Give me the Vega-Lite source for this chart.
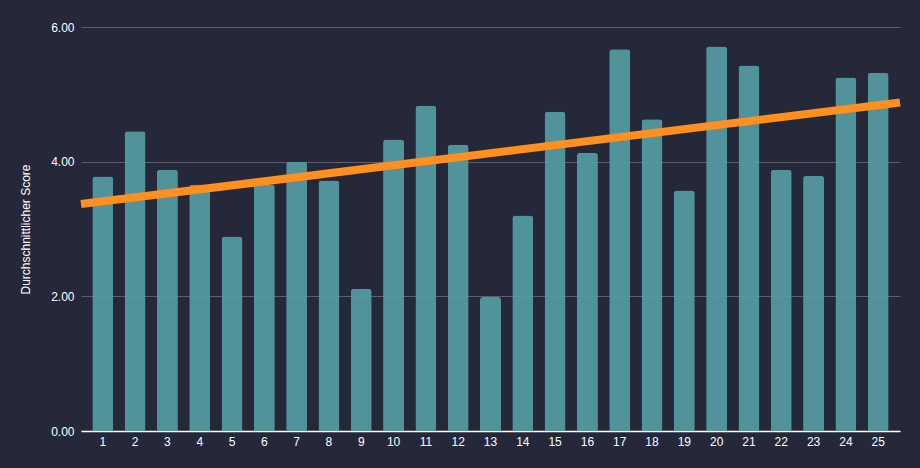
{
  "$schema": "https://vega.github.io/schema/vega-lite/v6.json",
  "width": 819,
  "height": 404,
  "autosize": {"type": "none"},
  "padding": {"left": 81, "top": 27, "right": 20, "bottom": 37},
  "background": "#252838",
  "datasets": {
    "scores": [
      {"nr": 1, "score": 3.78}, {"nr": 2, "score": 4.45}, {"nr": 3, "score": 3.88},
      {"nr": 4, "score": 3.66}, {"nr": 5, "score": 2.89}, {"nr": 6, "score": 3.66},
      {"nr": 7, "score": 4.0}, {"nr": 8, "score": 3.72}, {"nr": 9, "score": 2.11},
      {"nr": 10, "score": 4.33}, {"nr": 11, "score": 4.83}, {"nr": 12, "score": 4.25},
      {"nr": 13, "score": 1.99}, {"nr": 14, "score": 3.2}, {"nr": 15, "score": 4.74},
      {"nr": 16, "score": 4.13}, {"nr": 17, "score": 5.67}, {"nr": 18, "score": 4.63},
      {"nr": 19, "score": 3.57}, {"nr": 20, "score": 5.71}, {"nr": 21, "score": 5.43},
      {"nr": 22, "score": 3.88}, {"nr": 23, "score": 3.79}, {"nr": 24, "score": 5.25},
      {"nr": 25, "score": 5.32}
    ],
    "trend": [
      {"pos": 0, "value": 3.37},
      {"pos": 1, "value": 4.88}
    ]
  },
  "layer": [
    {
      "data": {"name": "scores"},
      "mark": {
        "type": "bar",
        "color": "#559fa6",
        "opacity": 0.9,
        "cornerRadiusTopLeft": 3,
        "cornerRadiusTopRight": 3
      },
      "encoding": {
        "x": {
          "field": "nr",
          "type": "ordinal",
          "scale": {"paddingInner": 0.35, "paddingOuter": 0.35},
          "axis": {
            "title": null,
            "labelAngle": 0,
            "ticks": false,
            "labelPadding": 5,
            "domainColor": "#ffffff",
            "domainWidth": 1.5,
            "grid": false
          }
        },
        "y": {
          "field": "score",
          "type": "quantitative",
          "scale": {"domain": [0, 6]},
          "axis": {
            "title": "Durchschnittlicher Score",
            "values": [0, 2, 4, 6],
            "format": ".2f",
            "domain": false,
            "ticks": false,
            "labelPadding": 7,
            "titlePadding": 18,
            "gridColor": "#5c5f6e",
            "gridWidth": 1
          }
        }
      }
    },
    {
      "data": {"name": "trend"},
      "mark": {"type": "line", "color": "#ff8f1f", "strokeWidth": 8, "strokeCap": "butt"},
      "encoding": {
        "x": {"field": "pos", "type": "quantitative", "scale": {"domain": [0, 1]}, "axis": null},
        "y": {"field": "value", "type": "quantitative"}
      }
    }
  ],
  "resolve": {"scale": {"x": "independent"}},
  "config": {
    "view": {"stroke": null},
    "font": "Liberation Sans",
    "axis": {
      "labelColor": "#ffffff",
      "labelFontSize": 12,
      "labelFont": "Liberation Sans",
      "titleColor": "#ffffff",
      "titleFontSize": 12,
      "titleFontWeight": "normal",
      "titleFont": "Liberation Sans"
    }
  }
}
